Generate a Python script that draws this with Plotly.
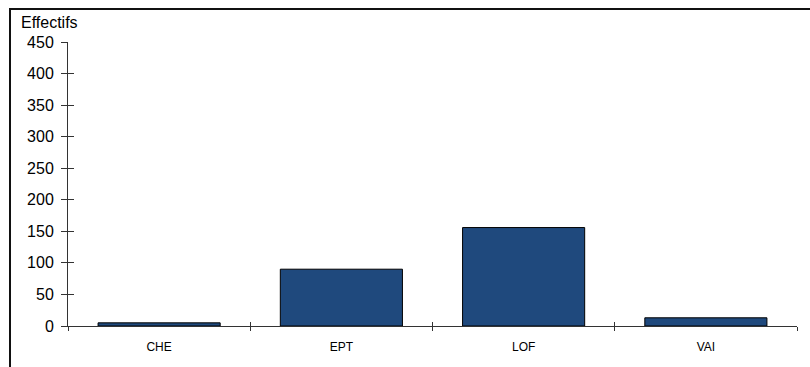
import plotly.graph_objects as go

# Effectifs par catégorie
categories = ["CHE", "EPT", "LOF", "VAI"]
effectifs = [5, 90, 156, 13]
y_ticks = [0, 50, 100, 150, 200, 250, 300, 350, 400, 450]

W, H = 810, 367
ML, MR, MT, MB = 68, 13, 42, 41
pw = W - ML - MR
ph = H - MT - MB

font = "Liberation Sans, Arial, sans-serif"
bar_color = "#1F497D"
axis_color = "#333333"

fig = go.Figure()
fig.add_trace(go.Bar(
    x=categories, y=effectifs,
    marker=dict(color=bar_color, line=dict(color="#000000", width=1)),
    showlegend=False,
))
# helper trace so the overlay axes (inner half of the crossing ticks) render
fig.add_trace(go.Scatter(
    x=categories, y=[None] * len(categories), mode="markers",
    xaxis="x2", yaxis="y2", showlegend=False, hoverinfo="skip",
))

fig.update_layout(
    width=W, height=H,
    margin=dict(l=ML, r=MR, t=MT, b=MB),
    paper_bgcolor="white", plot_bgcolor="white",
    bargap=0.33,
    font=dict(family=font, color="#000000"),
    xaxis=dict(
        type="category", showline=True, linecolor=axis_color, linewidth=1,
        ticks="outside", tickson="boundaries", ticklen=4, tickcolor=axis_color,
        showgrid=False, zeroline=False,
        tickfont=dict(size=12), ticklabelstandoff=10,
    ),
    yaxis=dict(
        range=[0, 450], tickvals=y_ticks, showline=True, linecolor=axis_color,
        linewidth=1, ticks="outside", ticklen=6, tickcolor=axis_color,
        showgrid=False, zeroline=False,
        tickfont=dict(size=16), ticklabelstandoff=4,
    ),
    xaxis2=dict(
        type="category", overlaying="x", matches="x", showline=False,
        ticks="inside", tickson="boundaries", ticklen=4, tickcolor=axis_color,
        showticklabels=False, showgrid=False, zeroline=False,
    ),
    yaxis2=dict(
        overlaying="y", matches="y", side="left", range=[0, 450],
        tickvals=y_ticks, showline=False, ticks="inside", ticklen=6,
        tickcolor=axis_color, showticklabels=False, showgrid=False,
        zeroline=False,
    ),
    shapes=[dict(
        type="rect", xref="paper", yref="paper",
        x0=(10 - ML) / pw, x1=(W + 10 - ML) / pw,
        y0=(MT + ph - (H + 10)) / ph, y1=(MT + ph - 9) / ph,
        line=dict(color="#111111", width=2), fillcolor="rgba(0,0,0,0)",
        layer="above",
    )],
    annotations=[dict(
        text="Effectifs", xref="paper", yref="paper",
        x=(19 - ML) / pw, y=(MT + ph - 23) / ph,
        xanchor="left", yanchor="middle", showarrow=False,
        font=dict(size=16, family=font, color="#000000"),
    )],
)

fig.write_html("out.html")
